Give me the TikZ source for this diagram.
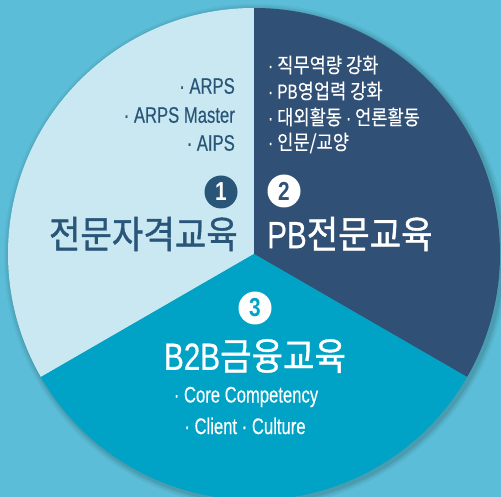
\documentclass[tikz,border=0pt]{standalone}
\usepackage{fontspec}
\newfontfamily\kr[FakeStretch=0.86,FakeBold=0.3]{Noto Sans CJK KR}
\newfontfamily\krt[FakeStretch=0.9,FakeBold=1.0]{Noto Sans CJK KR}
\newfontfamily\lat[FakeStretch=0.74,FakeBold=0.3]{Liberation Sans}
\newfontfamily\latt[FakeStretch=0.78,FakeBold=0.5]{Liberation Sans}
\newfontfamily\latb[FakeStretch=0.8]{Liberation Sans Bold}
\definecolor{bg}{HTML}{5BBDD7}
\definecolor{light}{HTML}{C9E8F1}
\definecolor{navy}{HTML}{315075}
\definecolor{teal}{HTML}{00A2C5}
\definecolor{tblue}{HTML}{285578}
\begin{document}
\begin{tikzpicture}[x=1pt,y=-1pt,
  item/.style={inner sep=0pt,font=\kr\fontsize{20.5}{22}\selectfont},
  litem/.style={inner sep=0pt,font=\lat\fontsize{22.5}{24}\selectfont},
  title/.style={inner sep=0pt,font=\krt\fontsize{38}{40}\selectfont},
  num/.style={circle,inner sep=0pt,minimum size=33pt,font=\latb\fontsize{26}{28}\selectfont}]
\useasboundingbox (0,0) rectangle (501,497);
\fill[bg] (0,0) rectangle (501,497);
\coordinate (c) at (254,254);
% soft shadow
\foreach \r/\o in {252/0.04,250/0.06,248/0.08}{
  \fill[black,opacity=\o] ([shift={(2,2)}]c) circle[radius=\r pt];}
% sectors
\fill[light] (c) -- ++(90:246pt) arc[start angle=90,end angle=210,radius=246pt] -- cycle;
\fill[navy] (c) -- ++(90:246pt) arc[start angle=90,end angle=-30,radius=246pt] -- cycle;
\fill[teal] (c) -- ++(210:246pt) arc[start angle=210,end angle=330,radius=246pt] -- cycle;
% sector 1
\node[litem,text=tblue,anchor=east] (a1) at (235,86) {· ARPS};
\node[litem,text=tblue,anchor=east] (a2) at (235,115) {· ARPS Master};
\node[litem,text=tblue,anchor=east] (a3) at (235,143) {· AIPS};
\node[num,fill=tblue,text=white] (n1) at (221,192) {1};
\node[title,text=tblue,anchor=east] (t1) at (238,234) {전문자격교육};
% sector 2
\node[item,text=white,anchor=west] (b1) at (268,65) {{\lat ·} 직무역량 강화};
\node[item,text=white,anchor=west] (b2) at (268,91) {{\lat · PB}영업력 강화};
\node[item,text=white,anchor=west] (b3) at (268,117) {{\lat ·} 대외활동 {\lat ·} 언론활동};
\node[item,text=white,anchor=west] (b4) at (268,143) {{\lat ·} 인문/교양};
\node[num,fill=white,text=navy] (n2) at (284,191) {2};
\node[title,text=white,anchor=west] (t2) at (267,234) {{\latt PB}전문교육};
% sector 3
\node[num,fill=white,text=teal] (n3) at (255,308) {3};
\node[title,text=white] (t3) at (255,356) {{\latt B2B}금융교육};
\node[litem,text=white] (c1) at (246,397) {· Core Competency};
\node[litem,text=white] (c2) at (245,426) {· Client · Culture};
\end{tikzpicture}
\end{document}
